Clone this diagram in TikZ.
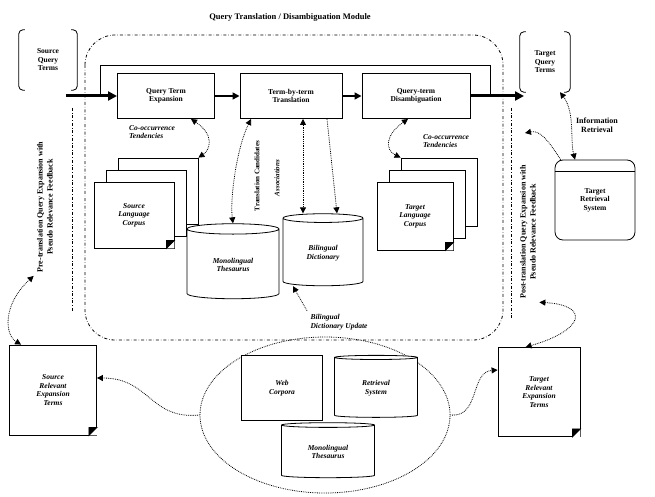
\documentclass[tikz,border=0pt]{standalone}
\usepackage{fontspec}
\setmainfont{Liberation Serif}
\usetikzlibrary{arrows.meta,shapes.geometric,positioning}
\tikzset{
  lbl/.style={font=\fontsize{7.5}{8.5}\selectfont\bfseries, align=center},
  ilbl/.style={font=\fontsize{7.5}{8.5}\selectfont\bfseries\itshape, align=center},
  procbox/.style={draw, line width=1pt, minimum height=45pt, lbl},
  sheet/.style={draw, fill=white, thick, minimum width=80pt, minimum height=66pt},
  dbcyl/.style={cylinder, shape border rotate=90, aspect=0.22, draw, thick, fill=white, ilbl},
  docbox/.style={draw, thick, fill=white, ilbl},
  flowarrow/.style={-{Triangle[length=9pt,width=9pt]}, line width=3pt},
  linkarrow/.style={-{Triangle[length=7pt,width=7pt]}, line width=1.6pt},
  dotarrow/.style={densely dotted, thick, -{Triangle[length=6pt,width=6pt]}},
  dotbi/.style={densely dotted, thick, {Triangle[length=6pt,width=6pt]}-{Triangle[length=6pt,width=6pt]}},
  border/.style={dash dot, thick},
}
\newcommand{\fold}[1]{%
  \fill[white] ([xshift=-8pt]#1.south east) -- (#1.south east) -- ([yshift=8pt]#1.south east) -- cycle;
  \draw[thick, fill=black] ([xshift=-8pt]#1.south east) -- ([yshift=8pt]#1.south east) -- ([xshift=-8pt,yshift=8pt]#1.south east) -- cycle;}
\newcommand{\brackets}[1]{%
  \draw[thick, rounded corners=4pt] ([xshift=6pt]#1.north west) -- (#1.north west) -- (#1.south west) -- ([xshift=6pt]#1.south west);
  \draw[thick, rounded corners=4pt] ([xshift=-6pt]#1.north east) -- (#1.north east) -- (#1.south east) -- ([xshift=-6pt]#1.south east);}
\begin{document}
\begin{tikzpicture}[x=1pt,y=-1pt]
\useasboundingbox (0,0) rectangle (655,497);
\node[lbl, font=\fontsize{8.5}{9}\selectfont\bfseries] (title) at (290,17) {Query Translation / Disambiguation Module};

% module border
\draw[border, rounded corners=30pt] (85,35) rectangle (503,340);
\draw[border] (72,108) -- (72,312);
\draw[border] (511,108) -- (511,318);

% query terms
\node[lbl, minimum width=58pt, minimum height=60pt] (qs) at (48,60) {Source\\Query\\Terms};
\brackets{qs}
\node[lbl, minimum width=50pt, minimum height=60pt] (qt) at (545,62) {Target\\Query\\Terms};
\brackets{qt}

% translation steps
\node[procbox, minimum width=97pt] (exp) at (166,96) {Query Term\\Expansion};
\node[procbox, minimum width=102pt] (trn) at (291,96) {Term-by-term\\Translation};
\node[procbox, minimum width=108pt] (dis) at (416,96) {Query-term\\Disambiguation};
\coordinate (qsout) at (66,96);
\coordinate (qtin) at (524,96);
\coordinate (byin) at (100,96);
\coordinate (byout) at (490,96);
\draw[thick] (byin) |- (490,65) -- (byout);
\draw[flowarrow] (qsout) -- (exp);
\draw[linkarrow] (exp) -- (trn);
\draw[linkarrow] (trn) -- (dis);
\draw[flowarrow] (dis) -- (qtin);

% source side resources
\node[ilbl, align=left] (coa) at (152,132) {Co-occurrence\\Tendencies};
\foreach \d/\n in {24/c,12/b} \node[sheet] (sc\n) at (134+\d,215-\d) {};
\node[sheet, ilbl] (sca) at (134,215) {Source\\Language\\Corpus};
\fold{sca}
\draw[dotbi] ([xshift=25pt]exp.south) .. controls (215,135) and (210,150) .. (scc.north east);

\node[dbcyl, minimum width=92pt, minimum height=75pt] (mth) at (233,265) {Monolingual\\Thesaurus};
\node[dbcyl, minimum width=80pt, minimum height=72pt] (bdc) at (323,253) {Bilingual\\Dictionary};
\node[lbl, rotate=90, font=\fontsize{7}{7.5}\selectfont\bfseries] (tcand) at (257,176) {Translation Candidates};
\node[ilbl, rotate=90, font=\fontsize{7}{7.5}\selectfont\bfseries\itshape] (assoc) at (277,178) {Associations};
\draw[dotbi] ([xshift=-40pt]trn.south) .. controls (236,150) and (230,200) .. (mth.north);
\draw[dotbi] ([xshift=12pt]trn.south) -- ([xshift=12pt]trn.south |- bdc.north);
\draw[dotarrow] ([xshift=36pt]trn.south) -- ([xshift=14pt]bdc.north);
\node[ilbl, align=left] (upd) at (339,322) {Bilingual\\Dictionary Update};
\draw[dotarrow] (upd.north west) -- ([xshift=-30pt]bdc.south);

% target side resources
\node[ilbl, align=left] (cob) at (446,141) {Co-occurrence\\Tendencies};
\foreach \d/\n in {24/c,12/b} \node[sheet, minimum width=76pt, minimum height=68pt] (tc\n) at (415+\d,216-\d) {};
\node[sheet, ilbl, minimum width=76pt, minimum height=68pt] (tca) at (415,216) {Target\\Language\\Corpus};
\fold{tca}
\draw[dotbi] ([xshift=-8pt]dis.south) .. controls (385,135) and (385,150) .. (tcc.north west);

% retrieval
\node[lbl, font=\fontsize{8}{9}\selectfont\bfseries] (info) at (597,125) {Information\\Retrieval};
\node[draw, thick, rounded corners=8pt, lbl, minimum width=80pt, minimum height=80pt] (tret) at (595,200) {Target\\Retrieval\\System};
\draw[thick] ([yshift=-12pt]tret.north west) -- ([yshift=-12pt]tret.north east);
\coordinate (rqin) at (525,133);
\draw[dotbi] ([xshift=15pt]qt.south) .. controls (575,112) and (570,140) .. ([xshift=-20pt]tret.north);
\draw[dotarrow] ([xshift=6pt]tret.north west) .. controls (548,140) and (540,130) .. (rqin);

% query expansion loops
\node[lbl, rotate=90, font=\fontsize{8}{10}\selectfont\bfseries] (lq) at (45,207) {Pre-translation Query Expansion with\\Pseudo Relevance Feedback};
\node[lbl, rotate=90, font=\fontsize{8}{10}\selectfont\bfseries] (rq) at (528,232) {Post-translation Query Expansion with\\Pseudo Relevance Feedback};

\node[docbox, minimum width=87pt, minimum height=90pt] (srel) at (53,390) {Source\\Relevant\\Expansion\\Terms};
\fold{srel}
\node[docbox, minimum width=82pt, minimum height=89pt] (trel) at (539,392) {Target\\Relevant\\Expansion\\Terms};
\fold{trel}

% web resources
\node[ellipse, draw, densely dotted, thick, minimum width=250pt, minimum height=156pt] (pool) at (325,415) {};
\node[draw, thick, fill=white, ilbl, minimum width=81pt, minimum height=65pt] (web) at (282,388) {Web\\Corpora};
\node[dbcyl, aspect=0.12, minimum width=83pt, minimum height=62pt] (rsys) at (376,388) {Retrieval\\System};
\node[dbcyl, aspect=0.1, minimum width=93pt, minimum height=55pt] (mth2) at (328,452) {Monolingual\\Thesaurus};

\draw[dotbi] (lq.north west) .. controls (2,305) and (5,335) .. ([xshift=12pt]srel.north west);
\draw[dotbi] (rq.south west) .. controls (590,305) and (585,330) .. ([xshift=28pt]trel.north west);
\draw[dotarrow] (pool.west) .. controls (150,420) and (150,378) .. ([yshift=12pt]srel.east);
\draw[dotarrow] (pool.east) .. controls (480,418) and (470,372) .. ([yshift=22pt]trel.west);
\end{tikzpicture}
\end{document}
